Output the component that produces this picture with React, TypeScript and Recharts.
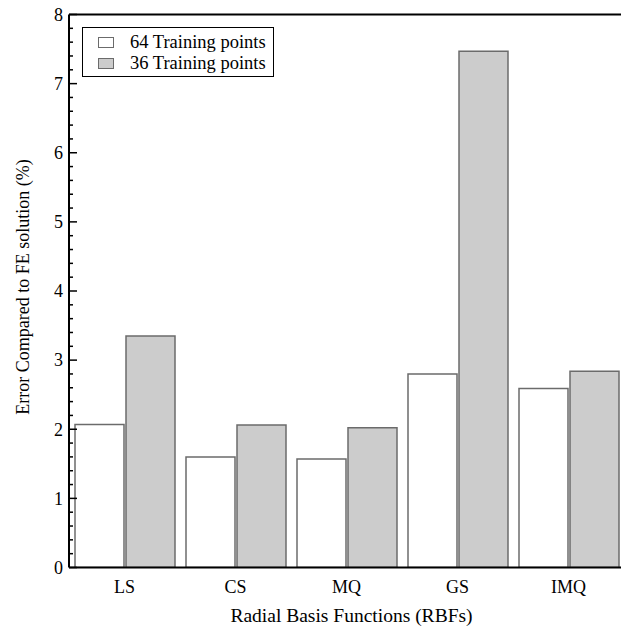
import React from 'react';
import { BarChart, Bar, XAxis, YAxis, ReferenceLine, Legend } from 'recharts';

// RBF types on the x axis
const categories = ['LS', 'CS', 'MQ', 'GS', 'IMQ'];
// error (%) for each training set size
const error64 = [2.07, 1.6, 1.57, 2.8, 2.59];
const error36 = [3.35, 2.06, 2.02, 7.47, 2.84];
const majorTicks = [0, 1, 2, 3, 4, 5, 6, 7, 8];
const seriesNames = ['64 Training points', '36 Training points'];

const data = categories.map((name, i) => ({ name, e64: error64[i], e36: error36[i] }));

// minor ticks every 0.2 between the labelled integers
const allTicks = majorTicks.flatMap((t, i) =>
  i === majorTicks.length - 1 ? [t] : [t, t + 0.2, t + 0.4, t + 0.6, t + 0.8]
).map(v => Math.round(v * 10) / 10);

const FONT = '"Liberation Serif", "Times New Roman", serif';
const BAR_STROKE = '#6b6b6b';
const GREY = '#cccccc';

const YTick = (props: any) => {
  const { x, y, payload } = props;
  const major = Number.isInteger(payload.value);
  return (
    <g>
      <line x1={x} x2={x + (major ? 8 : 4)} y1={y} y2={y} stroke="#000" strokeWidth={1.5} />
      {major && (
        <text x={x - 6} y={y} dy="0.35em" textAnchor="end" fontFamily={FONT} fontSize={18} fill="#000">
          {payload.value}
        </text>
      )}
    </g>
  );
};

const XTick = (props: any) => {
  const { x, y, payload } = props;
  return (
    <text x={x} y={y + 25} textAnchor="middle" fontFamily={FONT} fontSize={18} fill="#000">
      {payload.value}
    </text>
  );
};

const LegendBox = () => (
  <div
    style={{
      width: 190,
      height: 48,
      border: '1.5px solid #000',
      background: '#fff',
      fontFamily: FONT,
      fontSize: 18.5,
      color: '#000',
      boxSizing: 'content-box',
    }}
  >
    {seriesNames.map((name, i) => (
      <div key={name} style={{ display: 'flex', alignItems: 'center', height: 21, marginTop: i === 0 ? 4 : 0 }}>
        <span
          style={{
            display: 'inline-block',
            width: 14,
            height: 9,
            marginLeft: 15,
            marginRight: 16,
            border: `1.5px solid ${BAR_STROKE}`,
            background: i === 0 ? '#fff' : GREY,
          }}
        />
        <span>{name}</span>
      </div>
    ))}
  </div>
);

export default function App() {
  return (
    <div style={{ position: 'absolute', left: 0, top: 0, width: 621, height: 635, overflow: 'hidden', background: '#fff' }}>
      <BarChart
        width={630}
        height={635}
        data={data}
        margin={{ top: 14.5, right: 6, left: 0, bottom: 17.5 }}
        barCategoryGap={6}
        barGap={2}
      >
        <XAxis
          dataKey="name"
          axisLine={{ stroke: '#000', strokeWidth: 2 }}
          tickLine={false}
          tickSize={0}
          tickMargin={0}
          height={50}
          tick={<XTick />}
          label={{
            content: (p: any) => {
              const vb = p.viewBox;
              return (
                <text x={vb.x + vb.width / 2 + 5} y={vb.y + 54} textAnchor="middle" fontFamily={FONT} fontSize={19.5} fill="#000">
                  Radial Basis Functions (RBFs)
                </text>
              );
            },
          }}
        />
        <YAxis
          width={69}
          domain={[0, 8]}
          ticks={allTicks}
          interval={0}
          allowDataOverflow
          axisLine={{ stroke: '#000', strokeWidth: 2 }}
          tickLine={false}
          tickSize={0}
          tickMargin={0}
          tick={<YTick />}
          label={{
            content: (p: any) => {
              const vb = p.viewBox;
              const cy = vb.y + vb.height / 2 - 4;
              return (
                <text
                  x={29}
                  y={cy}
                  transform={`rotate(-90, 29, ${cy})`}
                  textAnchor="middle"
                  fontFamily={FONT}
                  fontSize={18}
                  fill="#000"
                >
                  Error Compared to FE solution (%)
                </text>
              );
            },
          }}
        />
        <ReferenceLine y={8} stroke="#000" strokeWidth={2} />
        <Legend
          layout="horizontal"
          verticalAlign="middle"
          align="center"
          content={<LegendBox />}
          wrapperStyle={{ left: 82, top: 27, width: 'auto' }}
        />
        <Bar dataKey="e64" name={seriesNames[0]} fill="#fff" stroke={BAR_STROKE} strokeWidth={1.5} isAnimationActive={false} />
        <Bar dataKey="e36" name={seriesNames[1]} fill={GREY} stroke={BAR_STROKE} strokeWidth={1.5} isAnimationActive={false} />
      </BarChart>
    </div>
  );
}
